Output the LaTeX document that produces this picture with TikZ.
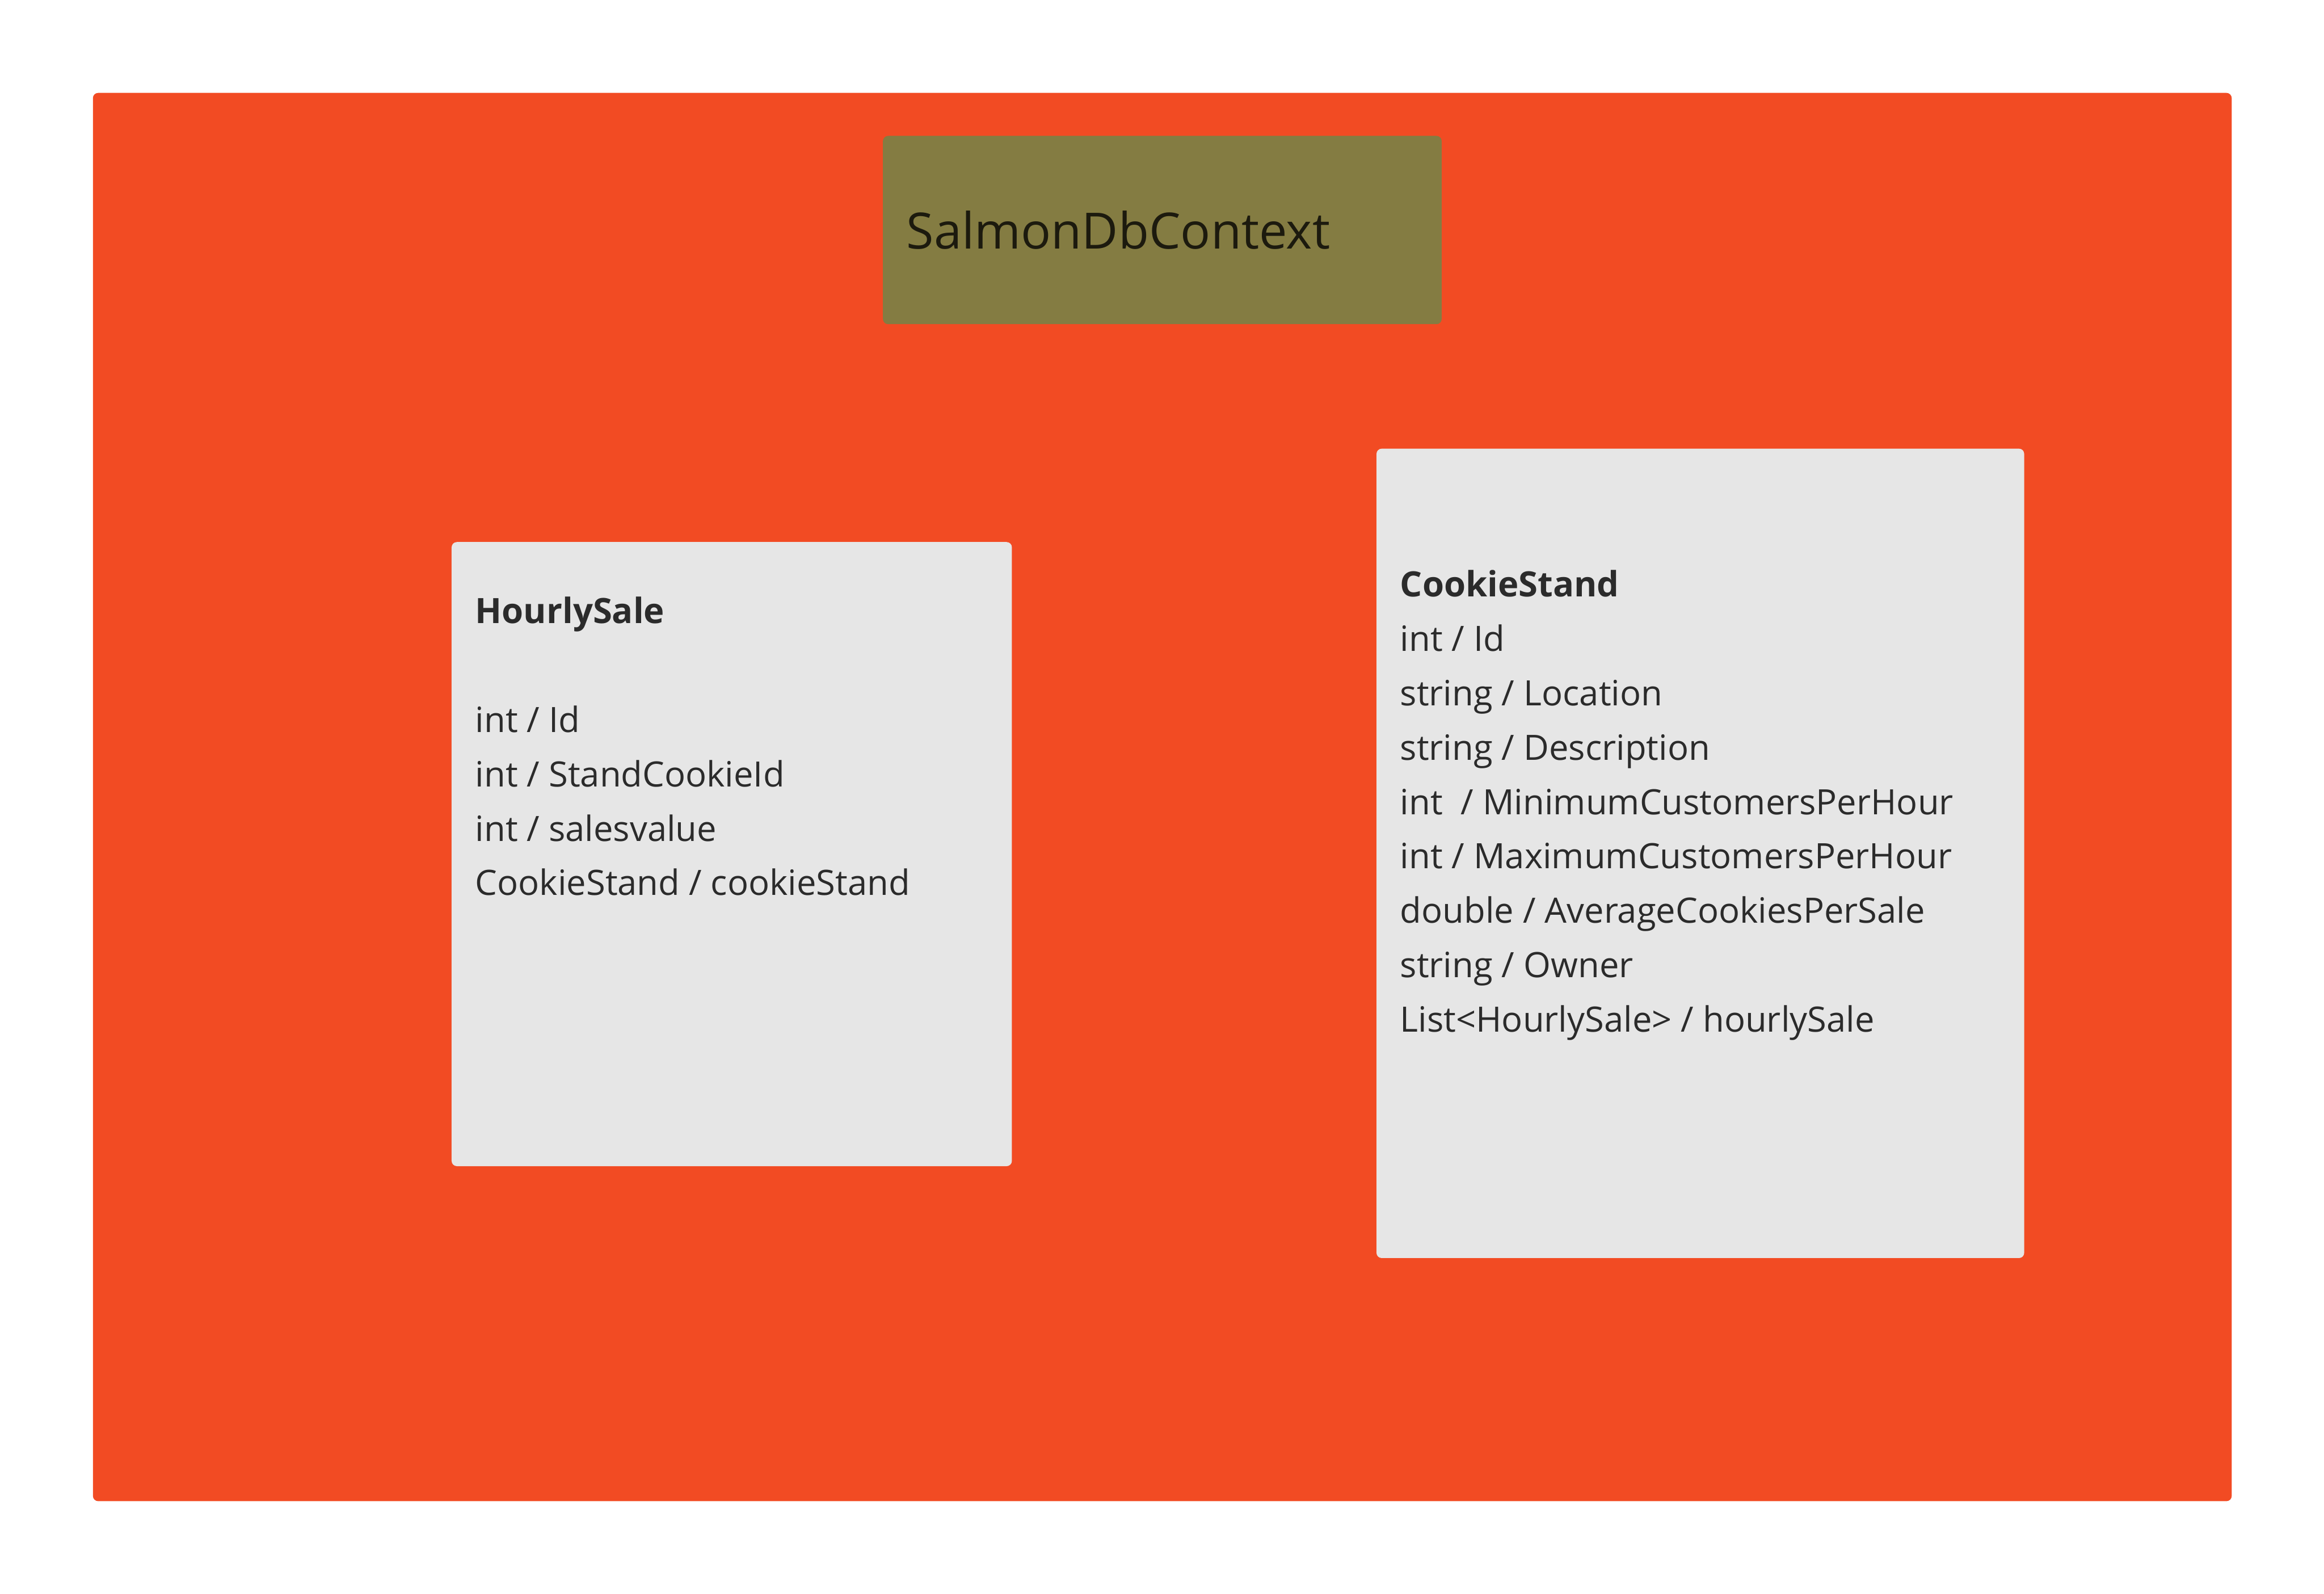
\documentclass[tikz,border=0pt]{standalone}
\usepackage{fontspec}
\setmainfont{Open Sans}
\usetikzlibrary{positioning}
\definecolor{canvasred}{HTML}{F24B23}
\definecolor{ctxolive}{HTML}{847C42}
\definecolor{entitygray}{HTML}{E6E6E6}
\definecolor{inktext}{HTML}{2B2B2B}
\definecolor{inkdark}{HTML}{1C1A0E}

\begin{document}
\begin{tikzpicture}[
    % Box styles
    canvas/.style={
        rectangle,
        rounded corners=1pt,
        fill=canvasred,
        inner sep=0pt,
        anchor=north west,
        minimum width=14.43cm,
        minimum height=9.50cm
    },
    ctxbox/.style={
        rectangle,
        rounded corners=1pt,
        fill=ctxolive,
        inner sep=0pt,
        anchor=north west,
        minimum width=3.77cm,
        minimum height=1.27cm
    },
    entity/.style={
        rectangle,
        rounded corners=1pt,
        fill=entitygray,
        inner sep=0pt,
        anchor=north west
    },
    % Text styles
    ctxlabel/.style={
        inner sep=0pt,
        text=inkdark,
        font=\fontsize{9.6}{12}\selectfont
    },
    fields/.style={
        inner sep=0pt,
        align=left,
        text=inktext,
        font=\fontsize{6.7}{10.44}\selectfont
    }
]

\fill[white] (0,0) rectangle (15.68,10.75);
\useasboundingbox (0,0) rectangle (15.68,10.75);

% --- Background ---
\node[canvas] (bg) at (0.62,10.13) {};

% --- Context ---
\node[ctxbox] (context) at (5.95,9.84) {};
\node[ctxlabel, right=0.16cm of context.west] (contextname) {SalmonDbContext};

% --- Entities ---
\node[entity, minimum width=3.78cm, minimum height=4.21cm] (hourly) at (3.04,7.10) {};
\node[fields, below right=0.37cm and 0.16cm of hourly.north west] (hourlyfields) {%
    \textbf{HourlySale}\\[10.44pt]
    int / Id\\
    int / StandCookieId\\
    int / salesvalue\\
    CookieStand / cookieStand};

\node[entity, minimum width=4.37cm, minimum height=5.46cm] (stand) at (9.28,7.73) {};
\node[fields, below right=0.82cm and 0.16cm of stand.north west] (standfields) {%
    \textbf{CookieStand}\\
    int / Id\\
    string / Location\\
    string / Description\\
    int\ \ / MinimumCustomersPerHour\\
    int / MaximumCustomersPerHour\\
    double / AverageCookiesPerSale\\
    string / Owner\\
    List<HourlySale> / hourlySale};

\end{tikzpicture}
\end{document}
